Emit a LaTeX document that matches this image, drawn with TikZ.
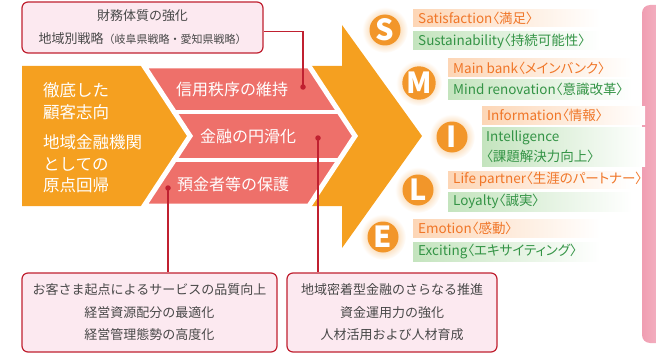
\documentclass[tikz,border=0pt]{standalone}
\usepackage{fontspec}
\setmainfont{Noto Sans CJK JP}
\newfontfamily\barfont[RawFeature=+palt]{Noto Sans CJK JP}
\definecolor{arroworange}{RGB}{245,160,32}
\definecolor{bandpink}{RGB}{238,112,106}
\definecolor{circorange}{RGB}{242,150,42}
\definecolor{barorange}{RGB}{253,214,182}
\definecolor{bargreen}{RGB}{196,228,190}
\definecolor{txtorange}{RGB}{240,118,40}
\definecolor{txtgreen}{RGB}{52,148,70}
\definecolor{linered}{RGB}{192,32,48}
\definecolor{boxpink}{RGB}{252,233,240}
\definecolor{txtgray}{RGB}{72,72,72}
\definecolor{panelpink}{RGB}{240,158,178}
\tikzset{
  infobox/.style={draw=linered, line width=1.2pt, fill=boxpink, rounded corners=6pt, text=txtgray, align=center, inner sep=0pt, font=\fontsize{13}{23}\selectfont},
  redline/.style={linered, line width=1.3pt},
  reddot/.style={circle, fill=linered, inner sep=0pt, minimum size=5.5pt},
  bandtext/.style={text=white, font=\fontsize{16}{16}\selectfont},
  lefttext/.style={text=white, anchor=west, align=left, inner sep=0pt, font=\fontsize{16.5}{21.5}\selectfont},
  lettercirc/.style={circle, fill=circorange, text=white, minimum size=31pt, inner sep=0pt, font=\fontsize{29}{29}\selectfont\bfseries},
  orangebar/.style={left color=barorange, middle color=barorange, right color=white},
  greenbar/.style={left color=bargreen, middle color=bargreen, right color=white},
  orangeword/.style={text=txtorange, anchor=west, inner sep=0pt, font=\barfont\fontsize{13.5}{20}\selectfont},
  greenword/.style={text=txtgreen, anchor=west, align=left, inner sep=0pt, font=\barfont\fontsize{13.5}{20}\selectfont}
}
\begin{document}
\begin{tikzpicture}[x=1pt,y=-1pt]
  \useasboundingbox (0,0) rectangle (656,353);
  \clip (0,0) rectangle (656,353);
  % pink panel at the right edge
  \shade[left color=panelpink, right color=panelpink!45, rounded corners=8pt] (642,5) rectangle (690,343);
  % big orange arrow
  \fill[arroworange] (22,66) -- (342,66) -- (342,25) -- (422,136) -- (342,248) -- (342,206) -- (22,206) -- cycle;
  % pink chevron with three bands
  \filldraw[fill=bandpink, draw=white, line width=5pt, line join=miter] (144,66) -- (309,66) -- (355,136) -- (309,206) -- (144,206) -- (190,136) -- cycle;
  \draw[white, line width=4pt] (172,112) -- (341,112);
  \draw[white, line width=4pt] (172,160) -- (341,160);
  \node[bandtext] (credit) at (232,89) {信用秩序の維持};
  \node[bandtext] (smooth) at (248,136) {金融の円滑化};
  \node[bandtext] (deposit) at (233,184) {預金者等の保護};
  \node[lefttext] (custom) at (43,101) {徹底した\\顧客志向};
  \node[lefttext] (origin) at (43,164) {地域金融機関\\としての\\原点回帰};
  % boxes and connectors
  \node[infobox, minimum width=241pt, minimum height=51pt] (topbox) at (142.5,27.5) {財務体質の強化\\地域別戦略{\fontsize{11}{11}\selectfont（岐阜県戦略・愛知県戦略）}};
  \node[infobox, minimum width=255pt, minimum height=79pt, font=\fontsize{13}{22.5}\selectfont] (leftbox) at (149.5,312.5) {お客さま起点によるサービスの品質向上\\経営資源配分の最適化\\経営管理態勢の高度化};
  \node[infobox, minimum width=210pt, minimum height=79pt, font=\fontsize{13}{22.5}\selectfont] (rightbox) at (392,312.5) {地域密着型金融のさらなる推進\\資金運用力の強化\\人材活用および人材育成};
  \node[reddot] (dotA) at (303,87) {};
  \node[reddot] (dotB) at (318,138) {};
  \node[reddot] (dotC) at (168,188) {};
  \draw[redline] (dotA.center) |- ([yshift=-4pt]topbox.east);
  \draw[redline] (dotB.center) -- (dotB.center |- rightbox.north);
  \draw[redline] (dotC.center) -- (dotC.center |- leftbox.north);
  % S M I L E
  \shade[inner color=circorange!80, outer color=white] (385,30) circle (23);
  \shade[inner color=circorange!80, outer color=white] (419,83) circle (23);
  \shade[inner color=circorange!80, outer color=white] (452,137) circle (23);
  \shade[inner color=circorange!80, outer color=white] (418,190) circle (23);
  \shade[inner color=circorange!80, outer color=white] (383,237) circle (23);
  \node[lettercirc] (S) at (385,30) {S};
  \node[lettercirc] (M) at (419,83) {M};
  \node[lettercirc] (I) at (452,137) {I};
  \node[lettercirc] (L) at (418,190) {L};
  \node[lettercirc] (E) at (383,237) {E};
  \shade[orangebar] (413,10) rectangle (600,27);
  \shade[greenbar] (413,32) rectangle (600,50);
  \shade[orangebar] (448,59) rectangle (632,77);
  \shade[greenbar] (448,80) rectangle (632,99);
  \shade[orangebar] (482,106) rectangle (645,124);
  \shade[greenbar] (482,127) rectangle (645,166);
  \shade[orangebar] (448,171) rectangle (632,188);
  \shade[greenbar] (448,192) rectangle (632,211);
  \shade[orangebar] (413,219) rectangle (600,237);
  \shade[greenbar] (413,242) rectangle (600,261);
  \node[orangeword] (satis) at (418,18.5) {Satisfaction〈満足〉};
  \node[greenword] (sustain) at (418,41) {Sustainability〈持続可能性〉};
  \node[orangeword] (mainbank) at (453,68) {Main bank〈メインバンク〉};
  \node[greenword] (mind) at (453,89.5) {Mind renovation〈意識改革〉};
  \node[orangeword] (info) at (487,115) {Information〈情報〉};
  \node[greenword] (intel) at (486,146.5) {Intelligence\\〈課題解決力向上〉};
  \node[orangeword] (life) at (453,179.5) {Life partner〈生涯のパートナー〉};
  \node[greenword] (loyal) at (453,201.5) {Loyalty〈誠実〉};
  \node[orangeword] (emotion) at (418,228) {Emotion〈感動〉};
  \node[greenword] (excite) at (418,251.5) {Exciting〈エキサイティング〉};
\end{tikzpicture}
\end{document}
